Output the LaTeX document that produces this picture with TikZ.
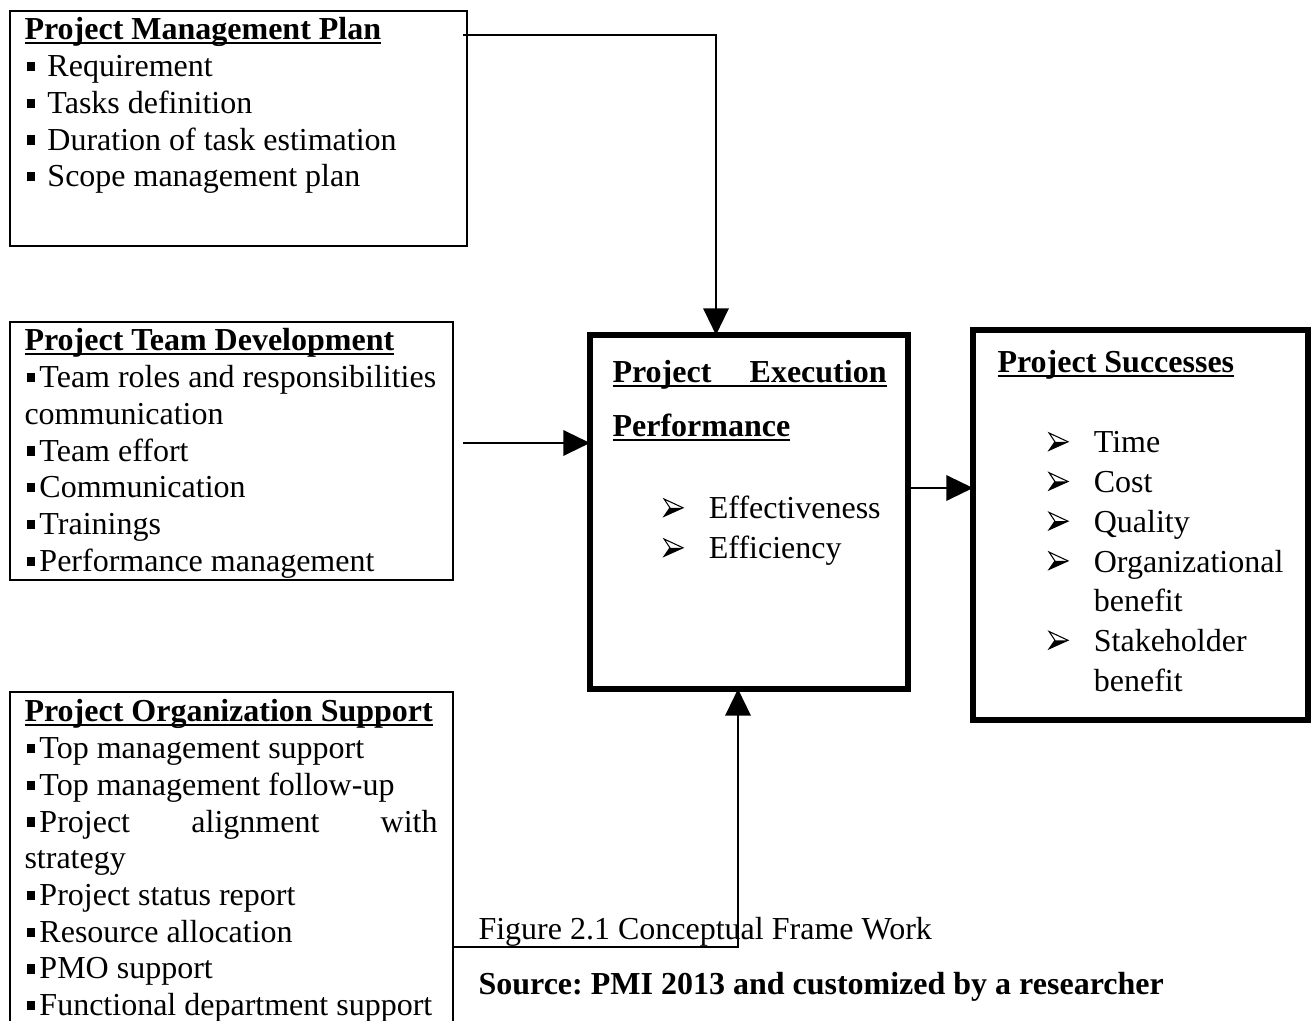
\documentclass[tikz,border=0pt]{standalone}
\usepackage{fontspec}
\setmainfont{Liberation Serif}
\usetikzlibrary{arrows.meta,calc}

\frenchspacing
\newsavebox{\ulbox}
\newcommand{\sqbullet}{\hspace{1pt}\rule[2pt]{2.8pt}{3.5pt}\hspace{1.8pt}}
\newcommand{\ulbold}[1]{\sbox{\ulbox}{\textbf{#1}}\rlap{\rule[-1.6pt]{\wd\ulbox}{0.9pt}}\usebox{\ulbox}}
\newcommand{\arrowbullet}{\makebox[17pt][l]{\tikz[baseline=-1pt,x=1pt,y=1pt,line width=0.4pt,line join=miter]{
  \fill[black] (2.2,3.2) -- (7.1,3.2) -- (0,0) -- cycle;
  \draw (0,0) -- (7.1,3.2) -- (0,6.5) -- (2.2,3.2) -- cycle;}}}

\tikzset{
  thinbox/.style={draw, line width=1pt, anchor=north west, inner sep=0pt, outer sep=0pt},
  thickbox/.style={draw, line width=1.9pt, anchor=north west, inner sep=0pt, outer sep=0pt},
  boxsize/.style 2 args={minimum width=#1*0.375pt, minimum height=#2*0.375pt},
  txt/.style={anchor=base west, inner sep=0pt, font=\fontsize{12}{13.8}\selectfont},
  link/.style={line width=0.85pt, -{Triangle[length=10pt,width=9.5pt]}}
}

\begin{document}
\begin{tikzpicture}[x=0.375pt,y=-0.375pt]
  \clip (0,0) rectangle (1311,1021);
  % boxes
  \node[thinbox, boxsize={457}{235}] (pmp) at (10,11) {};
  \node[thinbox, boxsize={443}{258}] (ptd) at (10,322) {};
  \node[thinbox, boxsize={443}{360}] (org) at (10,692) {};
  \node[thickbox, boxsize={318}{354}] (pep) at (590,335) {};
  \node[thickbox, boxsize={335}{390}] (suc) at (973,330) {};
  % project management plan
  \node[txt] (pmp-t) at (24,40) {\ulbold{Project Management Plan}};
  \foreach \t [count=\i] in {Requirement, Tasks definition, Duration of task estimation, Scope management plan}
    \node[txt] (pmp-\i) at (24,{40+36.7*\i}) {\sqbullet~\t};
  % project team development
  \node[txt] (ptd-t) at (24,351) {\ulbold{Project Team Development}};
  \foreach \t [count=\i] in {\sqbullet Team roles and responsibilities, communication, \sqbullet Team effort,
      \sqbullet Communication, \sqbullet Trainings, \sqbullet Performance management}
    \node[txt] (ptd-\i) at (24,{351+36.7*\i}) {\t};
  % project organization support
  \node[txt] (org-t) at (24,722) {\ulbold{Project Organization Support}};
  \foreach \t [count=\i] in {\sqbullet Top management support, \sqbullet Top management follow-up,
      {\sqbullet\makebox[149.3pt][s]{Project alignment with}}, strategy, \sqbullet Project status report,
      \sqbullet Resource allocation, \sqbullet PMO support, \sqbullet Functional department support}
    \node[txt] (org-\i) at (24,{722+36.7*\i}) {\t};
  % project execution performance
  \node[txt] (pep-t1) at (612,383) {\ulbold{\makebox[102.75pt][s]{Project Execution}}};
  \node[txt] (pep-t2) at (612,437) {\ulbold{Performance}};
  \node[txt] (pep-1) at (663,519) {\arrowbullet Effectiveness};
  \node[txt] (pep-2) at (663,559) {\arrowbullet Efficiency};
  % project successes
  \node[txt] (suc-t) at (997,373) {\ulbold{Project Successes}};
  \foreach \t [count=\i] in {\arrowbullet Time, \arrowbullet Cost, \arrowbullet Quality, \arrowbullet Organizational,
      \hspace{17pt}benefit, \arrowbullet Stakeholder, \hspace{17pt}benefit}
    \node[txt] (suc-\i) at (1048,{413.3+39.7*\i}) {\t};
  % caption
  \node[txt] (fig) at (478,940) {Figure 2.1 Conceptual Frame Work};
  \node[txt] (src) at (478,995) {\textbf{Source: PMI 2013 and customized by a researcher}};
  % connectors
  \coordinate (pmp-out) at (463,35);
  \draw[link] (pmp-out) -| ($(pep.north west)+(126,0)$);
  \coordinate (ptd-out) at (463,443);
  \draw[link] (ptd-out) -- (ptd-out -| pep.west);
  \coordinate (suc-in) at (940,488);
  \draw[link] (suc-in -| pep.east) -- (suc-in -| suc.west);
  \coordinate (org-bend) at (738,947);
  \draw[link] (org-bend -| org.east) -| (org-bend |- pep.south);
\end{tikzpicture}
\end{document}
